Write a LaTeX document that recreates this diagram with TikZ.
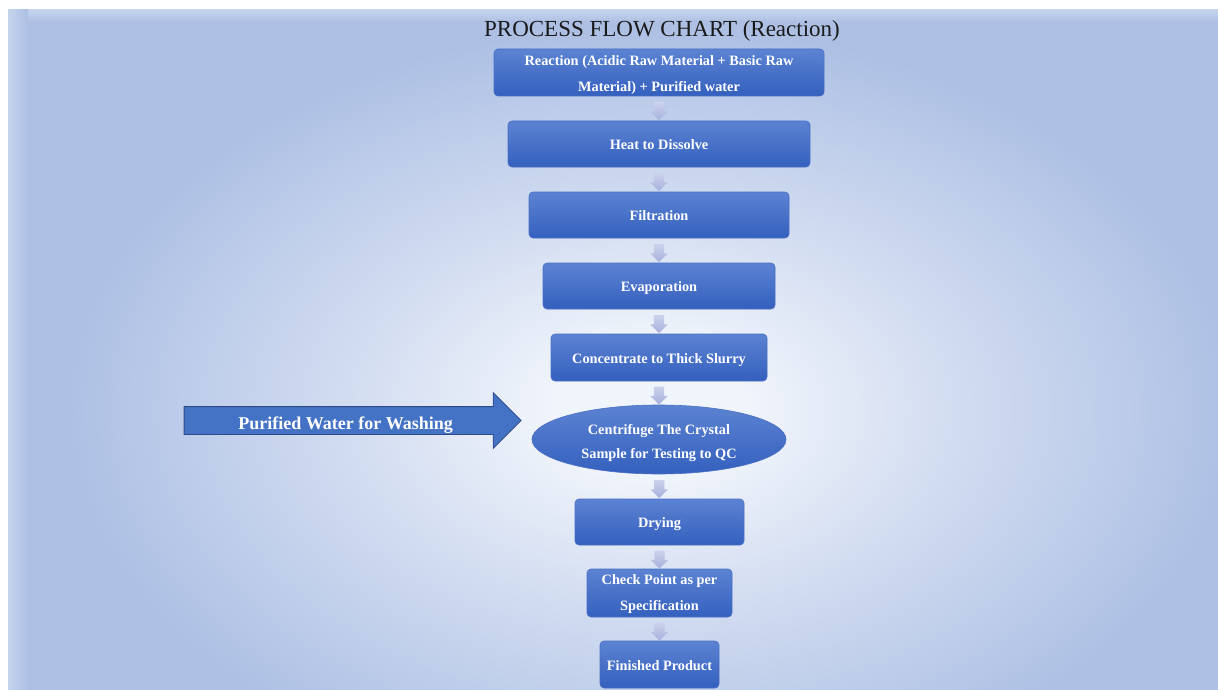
\documentclass[tikz,border=0pt]{standalone}
\usepackage{fontspec}
\setmainfont{Liberation Serif}
\newfontfamily\boxfont{Liberation Serif}
\usetikzlibrary{shapes.geometric,shapes.arrows,calc}
\definecolor{bgout}{HTML}{ADC0E4}
\definecolor{bgmid}{HTML}{D0DBF0}
\definecolor{bgin}{HTML}{F0F4FB}
\definecolor{boxtop}{HTML}{5C83D2}
\definecolor{boxbot}{HTML}{3460BE}
\definecolor{boxedge}{HTML}{4A6FC4}
\definecolor{arrtop}{HTML}{CBD2EC}
\definecolor{arrbot}{HTML}{A6B0DC}
\definecolor{bigfill}{HTML}{4472C4}
\definecolor{bigedge}{HTML}{2F4B86}
\definecolor{titlecol}{HTML}{1A1A1A}
\pgfdeclareradialshading{bgshade}{\pgfpoint{0bp}{0bp}}{color(0bp)=(bgin); color(4bp)=(bgin); color(13bp)=(bgmid); color(24bp)=(bgout); color(50bp)=(bgout)}
\newcommand\firstline[1]{\rule{0pt}{#1}}
\tikzset{
  stepbox/.style={rectangle, rounded corners=4pt, top color=boxtop, bottom color=boxbot,
    draw=boxedge, line width=0.6pt, inner sep=0pt, text=white, align=center,
    font=\boxfont\bfseries\fontsize{14.3}{26}\selectfont},
  oneline/.style={text height=11pt, text depth=0pt},
  ovalbox/.style={ellipse, top color=boxtop, bottom color=boxbot, draw=boxedge,
    line width=0.6pt, inner sep=0pt, text=white, align=center,
    font=\boxfont\bfseries\fontsize{14.3}{24}\selectfont},
  downarrow/.style={single arrow, shape border rotate=270, inner sep=5pt,
    minimum height=18pt, single arrow head extend=3.5pt, single arrow tip angle=90,
    top color=arrtop, bottom color=arrbot, draw=none},
  bigarrow/.style={single arrow, fill=bigfill, draw=bigedge, line width=0.8pt,
    minimum height=337pt, inner xsep=0pt, inner ysep=4.5pt, text height=18pt, text depth=0pt,
    single arrow head extend=14pt, single arrow tip angle=90, text=white,
    font=\bfseries\fontsize{18}{20}\selectfont}
}
\begin{document}
\begin{tikzpicture}[x=1pt,y=-1pt]
\useasboundingbox (0,0) rectangle (1218,690);
% background panel
\fill[white] (0,0) rectangle (1218,690);
\fill[bgout] (8,10) rectangle (1218,690);
\shade[left color=white!30!bgout, right color=bgout] (8,10) rectangle (28,690);
\shade[top color=white!30!bgout, bottom color=bgout] (28,10) rectangle (1218,22);
\begin{scope}
\clip (28,22) rectangle (1218,690);
\shade[shading=bgshade] (650,410) ellipse [x radius=610, y radius=400];
\end{scope}
% title
\node[font=\fontsize{23}{25}\selectfont, text=titlecol] (title) at (662,31) {PROCESS FLOW CHART (Reaction)};
% steps
\node[stepbox, minimum width=330pt, minimum height=47pt] (r1) at (659,72.5) {\firstline{15pt}Reaction (Acidic Raw Material + Basic Raw\\Material) + Purified water};
\node[stepbox, oneline, minimum width=302pt, minimum height=46pt] (r2) at (659,144) {Heat to Dissolve};
\node[stepbox, oneline, minimum width=260pt, minimum height=46pt] (r3) at (659,215) {Filtration};
\node[stepbox, oneline, minimum width=232pt, minimum height=46pt] (r4) at (659,286) {Evaporation};
\node[stepbox, oneline, minimum width=216pt, minimum height=47pt] (r5) at (659,357.5) {Concentrate to Thick Slurry};
\node[ovalbox, minimum width=254pt, minimum height=69pt] (r6) at (659,439.5) {\firstline{17pt}Centrifuge The Crystal\\Sample for Testing to QC};
\node[stepbox, oneline, minimum width=169pt, minimum height=46pt] (r7) at (659.5,522) {Drying};
\node[stepbox, minimum width=145pt, minimum height=48pt] (r8) at (659.5,593) {\firstline{13pt}Check Point as per\\Specification};
\node[stepbox, oneline, minimum width=119pt, minimum height=47pt] (r9) at (659.5,664.5) {Finished Product};
% connectors
\foreach \a/\b in {r1/r2,r2/r3,r3/r4,r4/r5,r5/r6,r6/r7,r7/r8,r8/r9}{
  \path (\a.south) -- (\b.north) node[midway, downarrow] {};
}
% washing arrow
\coordinate (washtip) at ($(r6.west)+(-10,-19)$);
\node[bigarrow, anchor=tip] (wash) at (washtip) {Purified Water for Washing};
\end{tikzpicture}
\end{document}
